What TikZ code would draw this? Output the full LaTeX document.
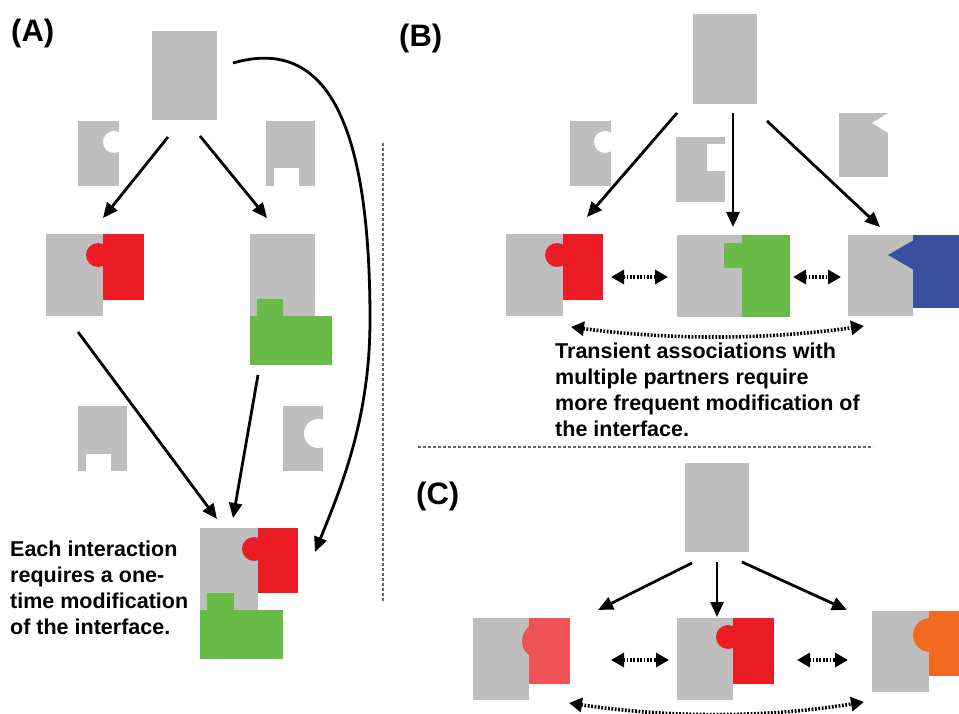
\documentclass[tikz,border=0pt]{standalone}
\usepackage{fontspec}
\setmainfont{Liberation Sans}
\usetikzlibrary{arrows.meta}
\definecolor{pgray}{HTML}{BEBEBE}
\definecolor{pred}{HTML}{EC1C24}
\definecolor{pgreen}{HTML}{67BB46}
\definecolor{pblue}{HTML}{3A4FA0}
\definecolor{plightred}{HTML}{EF5254}
\definecolor{porange}{HTML}{F26A21}

\begin{document}
\begin{tikzpicture}[
    x=1pt, y=-1pt,
    piece/.style={fill=pgray},
    notch/.style={fill=white},
    arrow/.style={-{Triangle[length=15pt, width=13pt]}, line width=2.8pt},
    pairarrow/.style={{Triangle[length=13pt, width=14pt]}-{Triangle[length=13pt, width=14pt]}, line width=3.6pt, dash pattern=on 1.8pt off 1.6pt},
    divider/.style={draw=black!60, line width=1.1pt, dash pattern=on 3pt off 2pt},
    panel/.style={font=\fontsize{31}{36}\selectfont\bfseries, inner sep=0pt, anchor=base west},
    note/.style={font=\fontsize{21.5}{26}\selectfont\bfseries, align=left, inner sep=0pt, anchor=north west}
]
    \useasboundingbox (0,0) rectangle (959,714);

    % (A) one partner at a time
    \node[panel] (labA) at (11,42) {(A)};
    \fill[piece] (152,31) rectangle (217,120);
    \fill[piece] (78,121) rectangle (119,186);
    \fill[notch] (114,142) circle (11);
    \fill[piece] (266,121) rectangle (315,186);
    \fill[notch] (274,168) rectangle (299,187);
    \fill[piece] (46,234) rectangle (103,316);
    \fill[pred] (103,234) rectangle (144,300);
    \fill[pred] (98,255) circle (12);
    \fill[piece] (250,234) rectangle (315,316);
    \fill[pgreen] (250,316) rectangle (332,365);
    \fill[pgreen] (257,299) rectangle (283,317);
    \fill[piece] (78,406) rectangle (127,471);
    \fill[notch] (86,454) rectangle (111,472);
    \fill[piece] (283,406) rectangle (323,471);
    \fill[notch] (318.5,433.5) circle (14.5);
    \fill[piece] (200,528) rectangle (258,610);
    \fill[pred] (258,528) rectangle (298,593);
    \fill[pred] (254,549) circle (12);
    \fill[pgreen] (200,610) rectangle (283,659);
    \fill[pgreen] (207,593) rectangle (234,611);

    \coordinate (topAl) at (168,137);
    \coordinate (topAr) at (200,136);
    \coordinate (topAc) at (233,63);
    \coordinate (redAin) at (103,218);
    \coordinate (greenAin) at (267,218);
    \coordinate (redAout) at (78,332);
    \coordinate (greenAout) at (258,375);
    \coordinate (bothAl) at (217,519);
    \coordinate (bothAm) at (233,518);
    \coordinate (bothAr) at (315,552);

    \draw[arrow] (topAl) -- (redAin);
    \draw[arrow] (topAr) -- (greenAin);
    \draw[arrow] (redAout) -- (bothAl);
    \draw[arrow] (greenAout) -- (bothAm);
    \draw[arrow] (topAc) .. controls (330,35) and (370,130) .. (370,320)
        .. controls (370,420) and (340,490) .. (bothAr);

    \node[note] (noteA) at (10,541) {Each interaction\\requires a one-\\time modification\\of the interface.};

    \draw[divider] (383,143) -- (383,602);
    \draw[divider] (418,447) -- (873,447);

    % (B) transient partners
    \node[panel] (labB) at (399,47) {(B)};
    \fill[piece] (693,14) rectangle (757,104);
    \fill[piece] (570,121) rectangle (611,186);
    \fill[notch] (605,142) circle (11);
    \fill[piece] (676,137) rectangle (725,202);
    \fill[notch] (707,144) rectangle (726,171);
    \fill[piece] (839,113) rectangle (888,177);
    \fill[notch] (889,112.5) -- (872,123) -- (889,133.5) -- cycle;
    \fill[piece] (506,234) rectangle (563,316);
    \fill[pred] (563,234) rectangle (603,300);
    \fill[pred] (557,255) circle (12);
    \fill[piece] (677,235) rectangle (742,317);
    \fill[pgreen] (742,235) rectangle (790,317);
    \fill[pgreen] (724,243) rectangle (743,268);
    \fill[piece] (848,235) rectangle (913,316);
    \fill[pblue] (913,235) rectangle (959,308);
    \fill[pblue] (914,240) -- (888,255) -- (914,270) -- cycle;

    \coordinate (topBl) at (677,113);
    \coordinate (topBm) at (733,113);
    \coordinate (topBr) at (767,121);
    \coordinate (redBin) at (587,217);
    \coordinate (greenBin) at (733,227);
    \coordinate (blueBin) at (880,227);
    \coordinate (redBr) at (611,277);
    \coordinate (greenBl) at (668,277);
    \coordinate (greenBr) at (793,277);
    \coordinate (blueBl) at (841,277);
    \coordinate (redBb) at (571,327);
    \coordinate (blueBb) at (864,326);

    \draw[arrow] (topBl) -- (redBin);
    \draw[arrow] (topBm) -- (greenBin);
    \draw[arrow] (topBr) -- (blueBin);
    \draw[pairarrow] (redBr) -- (greenBl);
    \draw[pairarrow] (greenBr) -- (blueBl);
    \draw[pairarrow] (redBb) .. controls (670,340) and (765,340) .. (blueBb);

    \node[note] (noteB) at (555,343) {Transient associations with\\multiple partners require\\more frequent modification of\\the interface.};

    % (C) variants of one partner
    \node[panel] (labC) at (416,504) {(C)};
    \fill[piece] (685,463) rectangle (749,552);
    \fill[piece] (473,618) rectangle (529,700);
    \fill[plightred] (529,618) rectangle (570,684);
    \fill[plightred] (540,641) circle (18);
    \fill[piece] (677,618) rectangle (733,700);
    \fill[pred] (733,618) rectangle (774,684);
    \fill[pred] (728,637) circle (12);
    \fill[piece] (872,611) rectangle (929,692);
    \fill[porange] (929,611) rectangle (959,676);
    \fill[porange] (930,635) circle (17);

    \coordinate (topCl) at (692,563);
    \coordinate (topCm) at (717,562);
    \coordinate (topCr) at (742,562);
    \coordinate (paleCin) at (598,610);
    \coordinate (redCin) at (717,617);
    \coordinate (orangeCin) at (847,610);
    \coordinate (paleCr) at (611,660);
    \coordinate (redCl) at (669,660);
    \coordinate (redCr) at (797,660);
    \coordinate (orangeCl) at (848,660);
    \coordinate (paleCb) at (569,703);
    \coordinate (orangeCb) at (864,702);

    \draw[arrow] (topCl) -- (paleCin);
    \draw[arrow] (topCm) -- (redCin);
    \draw[arrow] (topCr) -- (orangeCin);
    \draw[pairarrow] (paleCr) -- (redCl);
    \draw[pairarrow] (redCr) -- (orangeCl);
    \draw[pairarrow] (paleCb) .. controls (670,718) and (765,718) .. (orangeCb);
\end{tikzpicture}
\end{document}
